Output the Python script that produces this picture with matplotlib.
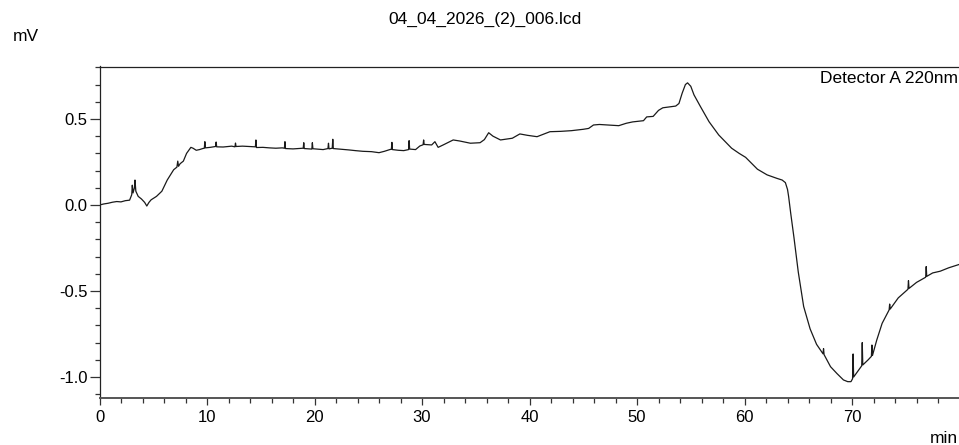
import matplotlib
matplotlib.use('Agg')
import matplotlib.pyplot as plt
from matplotlib.ticker import MultipleLocator
import numpy as np

plt.rcParams['font.family'] = ['Liberation Sans', 'DejaVu Sans']

# Chromatogram trace (min, mV)
time_min = [
    0.0, 0.4, 0.8, 1.2, 1.6, 2.0, 2.4, 2.8, 3.0, 3.05, 3.12, 3.25, 3.3, 3.38,
    3.6, 3.9, 4.2, 4.4, 4.6, 4.8, 5.3, 5.8, 6.3, 6.9, 7.2, 7.28, 7.35, 7.5,
    7.8, 8.1, 8.3, 8.5, 8.7, 9.0, 9.3, 9.6, 9.75, 9.8, 9.85,
    10.3, 10.8, 10.85, 10.9, 11.5, 12.3, 12.6, 12.65, 12.7, 13.3, 14.0, 14.5,
    14.55, 14.6, 15.2, 15.8, 16.4, 17.0, 17.2, 17.25, 17.3, 18.0, 18.95, 19.0,
    19.05, 19.75, 19.8, 19.85, 20.8, 21.25, 21.3, 21.35, 21.65, 21.7, 21.75,
    22.5, 23.2, 23.8, 24.5, 25.3, 26.0, 26.5, 27.0, 27.15, 27.2, 27.25, 27.8,
    28.3, 28.75, 28.8, 28.85, 29.4, 29.8, 30.1, 30.15, 30.2, 30.9, 31.2, 31.5,
    32.0, 32.9, 33.5, 34.5, 35.4, 35.8, 36.2, 36.6, 37.3, 38.4, 39.1, 39.8,
    40.7, 41.9, 42.9, 43.9, 45.0, 45.5, 45.95, 46.5, 47.3, 48.3, 49.0, 49.6,
    50.3, 50.6, 50.9, 51.5, 52.0, 52.4, 53.0, 53.6, 53.9, 54.2, 54.5, 54.7,
    55.0, 55.3, 55.9, 56.7, 57.6, 58.8, 59.5, 60.1, 61.2, 62.1, 63.0, 63.5,
    63.8, 64.0, 64.1, 64.3, 64.6, 65.0, 65.5, 66.1, 66.7, 67.3, 67.35, 67.4,
    68.0, 68.6, 69.2, 69.6, 69.9, 70.05, 70.1, 70.15, 70.5, 70.9, 70.95, 71.0,
    71.5, 71.8, 71.85, 71.9, 72.3, 72.8, 73.45, 73.5, 73.55, 74.3, 75.2, 75.25,
    75.3, 76.0, 76.85, 76.9, 76.95, 77.5, 78.2, 79.0, 80.0,
]
signal_mv = [
    0.000, 0.006, 0.010, 0.016, 0.020, 0.018, 0.025, 0.028, 0.060, 0.115, 0.070, 0.100, 0.145, 0.080,
    0.050, 0.035, 0.015, -0.006, 0.015, 0.030, 0.050, 0.080, 0.145, 0.205, 0.220, 0.255, 0.225, 0.240,
    0.255, 0.300, 0.318, 0.335, 0.330, 0.318, 0.322, 0.328, 0.330, 0.368, 0.332,
    0.335, 0.340, 0.366, 0.338, 0.337, 0.342, 0.338, 0.360, 0.340, 0.342, 0.340, 0.338,
    0.378, 0.334, 0.335, 0.332, 0.330, 0.332, 0.330, 0.368, 0.328, 0.326, 0.330, 0.362,
    0.328, 0.325, 0.362, 0.327, 0.322, 0.328, 0.359, 0.326, 0.330, 0.382, 0.328,
    0.324, 0.320, 0.316, 0.312, 0.310, 0.304, 0.312, 0.322, 0.324, 0.364, 0.322, 0.318,
    0.316, 0.322, 0.374, 0.325, 0.322, 0.343, 0.350, 0.378, 0.352, 0.349, 0.368, 0.335,
    0.350, 0.378, 0.372, 0.359, 0.362, 0.380, 0.420, 0.400, 0.378, 0.388, 0.413, 0.405,
    0.397, 0.426, 0.428, 0.432, 0.440, 0.445, 0.465, 0.468, 0.465, 0.461, 0.475, 0.483,
    0.488, 0.490, 0.512, 0.515, 0.550, 0.565, 0.570, 0.575, 0.590, 0.650, 0.700, 0.710,
    0.690, 0.640, 0.572, 0.484, 0.407, 0.330, 0.300, 0.277, 0.208, 0.175, 0.155, 0.145,
    0.130, 0.090, 0.050, -0.050, -0.190, -0.390, -0.590, -0.720, -0.810, -0.865, -0.835, -0.870,
    -0.940, -0.980, -1.017, -1.027, -1.027, -1.010, -0.866, -1.000, -0.970, -0.935, -0.800, -0.930,
    -0.900, -0.880, -0.814, -0.875, -0.785, -0.688, -0.610, -0.576, -0.605, -0.540, -0.490, -0.440,
    -0.485, -0.450, -0.420, -0.358, -0.415, -0.395, -0.385, -0.365, -0.345,
]

title = '04_04_2026_(2)_006.lcd'
channel = 'Detector A 220nm'

W, H = 959, 445
fig = plt.figure(figsize=(W / 100, H / 100), dpi=100)
ax = fig.add_axes([99.5 / W, 1 - 398 / H, 1 - 99.5 / W, (398 - 66.5) / H])

ax.plot(time_min, signal_mv, color='#1a1a1a', lw=0.9)

# right edge stops just short of 80 so no "80" label is drawn
ax.set_xlim(0, 79.95)
ax.set_ylim(-1.122, 0.805)
ax.xaxis.set_major_locator(MultipleLocator(10))
ax.xaxis.set_minor_locator(MultipleLocator(2))
ax.yaxis.set_major_locator(MultipleLocator(0.5))
ax.yaxis.set_minor_locator(MultipleLocator(0.1))
ax.yaxis.set_major_formatter(lambda v, p: f'{v:.1f}')

ax.spines['right'].set_visible(False)
for s in ['left', 'top']:
    ax.spines[s].set_linewidth(0.9)
    ax.spines[s].set_color('#222222')
ax.spines['bottom'].set_linewidth(1.4)
ax.spines['bottom'].set_color('#555555')

ax.tick_params(axis='y', which='major', direction='out', length=7.5, width=0.9,
               pad=1, labelsize=12, color='#333333')
ax.tick_params(axis='y', which='minor', direction='out', length=3.3, width=0.9,
               color='#333333')
ax.tick_params(axis='x', which='major', direction='out', length=5, width=0.9,
               pad=4, labelsize=12, color='#333333')
ax.tick_params(axis='x', which='minor', direction='out', length=3.6, width=0.9,
               color='#333333')

fig.text(485 / W, 1 - 19 / H, title, ha='center', va='center', fontsize=12.5)
fig.text(25.7 / W, 1 - 36.3 / H, 'mV', ha='center', va='center', fontsize=12.5)
fig.text(958 / W, 1 - 443 / H, 'min', ha='right', va='baseline', fontsize=12.5)
fig.text(958 / W, 1 - 83 / H, channel, ha='right', va='baseline', fontsize=12.5)

fig.savefig('out.png', dpi=100)
